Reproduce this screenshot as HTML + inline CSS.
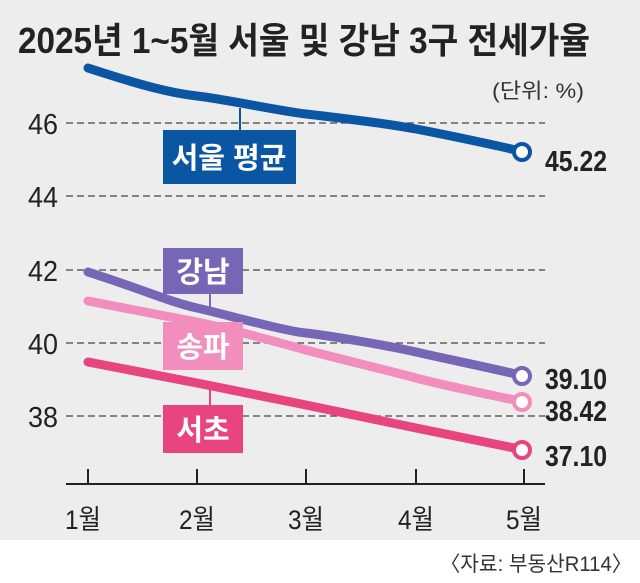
<!DOCTYPE html><html><head><meta charset="utf-8"><style>
body{margin:0;width:640px;height:578px;background:#fff;overflow:hidden}
svg text{font-family:"Liberation Sans","Noto Sans CJK KR",sans-serif}
</style></head><body>
<svg width="640" height="578" viewBox="0 0 640 578">
<rect x="0" y="0" width="640" height="540" fill="#ededed"/>
<text x="18" y="53" font-size="36" font-weight="bold" fill="#222" textLength="572" lengthAdjust="spacingAndGlyphs">2025년 1~5월 서울 및 강남 3구 전세가율</text>
<text x="584" y="98" font-size="21" fill="#333" text-anchor="end" textLength="92" lengthAdjust="spacingAndGlyphs">(단위: %)</text>
<g stroke="#444" stroke-width="1.3" stroke-dasharray="7,4">
<line x1="66" y1="123" x2="545" y2="123"/><line x1="66" y1="196" x2="545" y2="196"/>
<line x1="66" y1="270" x2="545" y2="270"/><line x1="66" y1="343" x2="545" y2="343"/>
<line x1="66" y1="416" x2="545" y2="416"/></g>
<g font-size="29" fill="#222" text-anchor="end">
<text x="58" y="134" textLength="30" lengthAdjust="spacingAndGlyphs">46</text>
<text x="58" y="207" textLength="30" lengthAdjust="spacingAndGlyphs">44</text>
<text x="58" y="281" textLength="30" lengthAdjust="spacingAndGlyphs">42</text>
<text x="58" y="354" textLength="30" lengthAdjust="spacingAndGlyphs">40</text>
<text x="58" y="427" textLength="30" lengthAdjust="spacingAndGlyphs">38</text></g>
<line x1="66" y1="484" x2="545" y2="484" stroke="#222" stroke-width="2"/>
<g stroke="#222" stroke-width="2"><line x1="88" y1="469" x2="88" y2="484"/><line x1="197" y1="469" x2="197" y2="484"/><line x1="306" y1="469" x2="306" y2="484"/><line x1="416" y1="469" x2="416" y2="484"/><line x1="524" y1="469" x2="524" y2="484"/></g>
<g font-size="27" fill="#222" text-anchor="middle">
<text x="83" y="529" textLength="36" lengthAdjust="spacingAndGlyphs">1월</text>
<text x="197" y="529" textLength="36" lengthAdjust="spacingAndGlyphs">2월</text>
<text x="306" y="529" textLength="36" lengthAdjust="spacingAndGlyphs">3월</text>
<text x="416" y="529" textLength="36" lengthAdjust="spacingAndGlyphs">4월</text>
<text x="524" y="529" textLength="36" lengthAdjust="spacingAndGlyphs">5월</text></g>
<g fill="none" stroke-width="9" stroke-linecap="round" stroke-linejoin="round">
<path d="M88,68 C140,85 170,93 197,96 S280,111 306,114 S390,124 416,129 S500,146 524,152" stroke="#0b56a2"/>
<path d="M88,272 C150,292 170,302 197,308 S280,330 306,333 S390,346 416,352 S500,370 524,376" stroke="#7567b5"/>
<path d="M88,301 C150,313 170,317 197,322 S280,343 306,350 S390,371 416,378 S500,397 524,402" stroke="#f28ebe"/>
<path d="M88,362 L197,383 L306,405 L416,428 L524,450" stroke="#e8447e"/>
</g>
<g fill="#fff" stroke-width="4"><circle cx="522" cy="152" r="8" stroke="#0b56a2"/><circle cx="522" cy="376" r="8" stroke="#7567b5"/><circle cx="522" cy="402" r="8" stroke="#f28ebe"/><circle cx="522" cy="450" r="8" stroke="#e8447e"/></g>
<g stroke-width="2"><line x1="240" y1="108" x2="240" y2="132" stroke="#0b56a2"/><line x1="210" y1="292" x2="210" y2="308" stroke="#7567b5"/><line x1="210" y1="385" x2="210" y2="406" stroke="#e8447e"/></g>
<rect x="163" y="130" width="133" height="54" fill="#0b56a2"/>
<rect x="163" y="248" width="80" height="46" fill="#7567b5"/>
<rect x="163" y="322" width="80" height="48" fill="#f28ebe"/>
<rect x="163" y="405" width="80" height="48" fill="#e8447e"/>
<g font-size="29" font-weight="bold" fill="#fff" text-anchor="middle">
<text x="229" y="168">서울 평균</text><text x="203" y="282">강남</text><text x="203" y="357">송파</text><text x="203" y="440">서초</text></g>
<g font-size="29" font-weight="bold" fill="#222">
<text x="545" y="171" textLength="62" lengthAdjust="spacingAndGlyphs">45.22</text>
<text x="545" y="389" textLength="62" lengthAdjust="spacingAndGlyphs">39.10</text>
<text x="545" y="421" textLength="62" lengthAdjust="spacingAndGlyphs">38.42</text>
<text x="545" y="466" textLength="62" lengthAdjust="spacingAndGlyphs">37.10</text></g>
<text x="632" y="571" font-size="21" fill="#333" text-anchor="end" textLength="192" lengthAdjust="spacingAndGlyphs">〈자료: 부동산R114〉</text>
</svg></body></html>
